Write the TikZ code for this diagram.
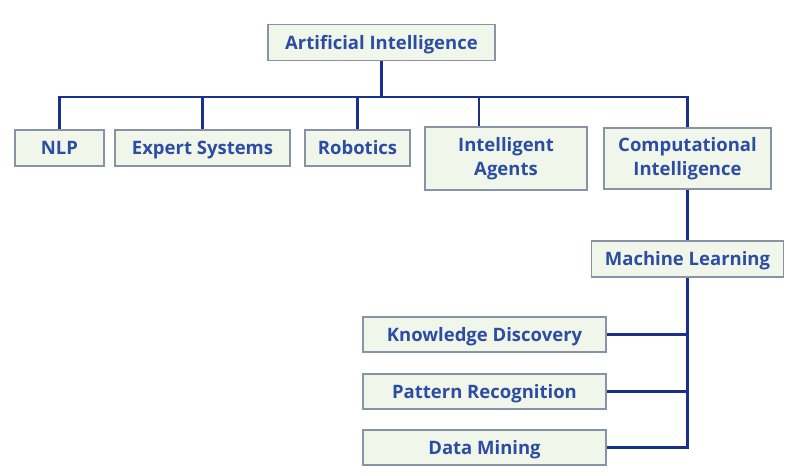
\documentclass[tikz,border=0pt]{standalone}
\usepackage{fontspec}
\setmainfont{Open Sans}
\usetikzlibrary{positioning}

\definecolor{boxfill}{HTML}{F1F6EB}
\definecolor{boxline}{HTML}{8893A8}
\definecolor{txtblue}{HTML}{2D4DA3}
\definecolor{wire}{HTML}{1B2F8E}

\begin{document}
\begin{tikzpicture}[
						x=1pt, y=-1pt,
						box/.style = {draw=boxline, line width=1.6pt, fill=boxfill, text=txtblue, font=\bfseries\fontsize{18.5}{24.5}\selectfont, inner sep=0pt, align=center, text height=13.2pt, text depth=0pt, minimum height=36pt},
						tallbox/.style = {box, text height={}, text depth={}, minimum height=62pt},
						link/.style = {draw=wire, line width=2.2pt}
					]
\useasboundingbox (0,0) rectangle (800,475);

% top level
\node[box, minimum width=227pt] (ai) at (381.5,42.5) {Artificial Intelligence};
\coordinate (bus) at (381.5,97);
\coordinate (iatap) at (479,97);

% second level
\node[box, minimum width=89pt] (nlp) at (59.5,148) {NLP};
\node[box, minimum width=175pt] (es) at (202.5,148) {Expert Systems};
\node[box, minimum width=105pt] (rob) at (357.5,148) {Robotics};
\node[tallbox, minimum width=162pt, minimum height=63pt] (ia) at (506,158.5) {Intelligent\\Agents};
\node[tallbox, minimum width=167pt, minimum height=61pt] (ci) at (687.5,158.5) {Computational\\Intelligence};

% machine learning branch
\node[box, minimum width=192pt] (ml) at (687.5,259) {Machine Learning};
\node[box, minimum width=243pt, minimum height=35pt] (kd) at (484.5,334.5) {Knowledge Discovery};
\node[box, minimum width=243pt, minimum height=35pt] (pr) at (484.5,391.5) {Pattern Recognition};
\node[box, minimum width=243pt, minimum height=35pt] (dm) at (484.5,447.5) {Data Mining};

\draw[link] (ai.south) -- (bus);
\draw[link] (nlp.north) |- (bus) -| (ci.north);
\draw[link] (es.north) -- (es.north |- bus);
\draw[link] (rob.north) -- (rob.north |- bus);
\draw[link] (iatap) -- (iatap |- ia.north);
\draw[link] (ci.south) -- (ml.north);
\draw[link] (ml.south) |- (dm.east);
\draw[link] (kd.east) -- (kd.east -| ml.south);
\draw[link] (pr.east) -- (pr.east -| ml.south);
\end{tikzpicture}
\end{document}
